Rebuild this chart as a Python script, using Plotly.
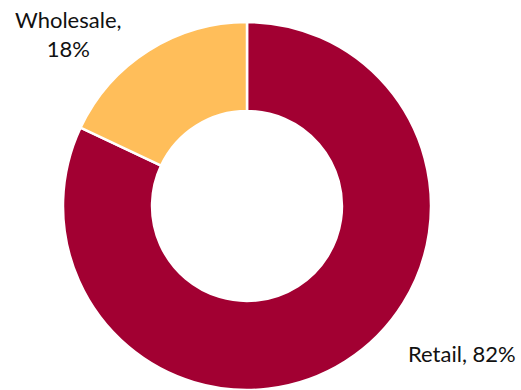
import plotly.graph_objects as go

# Sales channel split
channels = ["Retail", "Wholesale"]
shares = [82, 18]
colors = ["#A20032", "#FFBE5A"]

W, H = 521, 390

fig = go.Figure(
    go.Pie(
        labels=channels,
        values=shares,
        hole=0.516,
        sort=False,
        direction="clockwise",
        rotation=0,
        marker=dict(colors=colors, line=dict(color="white", width=2.5)),
        textinfo="none",
        hoverinfo="label+percent",
        showlegend=False,
        domain=dict(x=[63 / W, 431 / W], y=[0.0, (H - 22) / H]),
    )
)

font = dict(family="Lato, Open Sans, sans-serif", size=22, color="#111111")


def px(x, y):
    return x / W, 1 - y / H


ax, ay = px(68, 34)
bx, by = px(462, 353)
fig.add_annotation(
    x=ax, y=ay, xref="paper", yref="paper",
    text=f"{channels[1]},<br>{shares[1]}%",
    showarrow=False, font=font, align="center",
    xanchor="center", yanchor="middle",
)
fig.add_annotation(
    x=bx, y=by, xref="paper", yref="paper",
    text=f"{channels[0]}, {shares[0]}%",
    showarrow=False, font=font, align="center",
    xanchor="center", yanchor="middle",
)

fig.update_layout(
    width=W, height=H,
    margin=dict(l=0, r=0, t=0, b=0),
    paper_bgcolor="white",
    plot_bgcolor="white",
)

fig.write_html("out.html")
